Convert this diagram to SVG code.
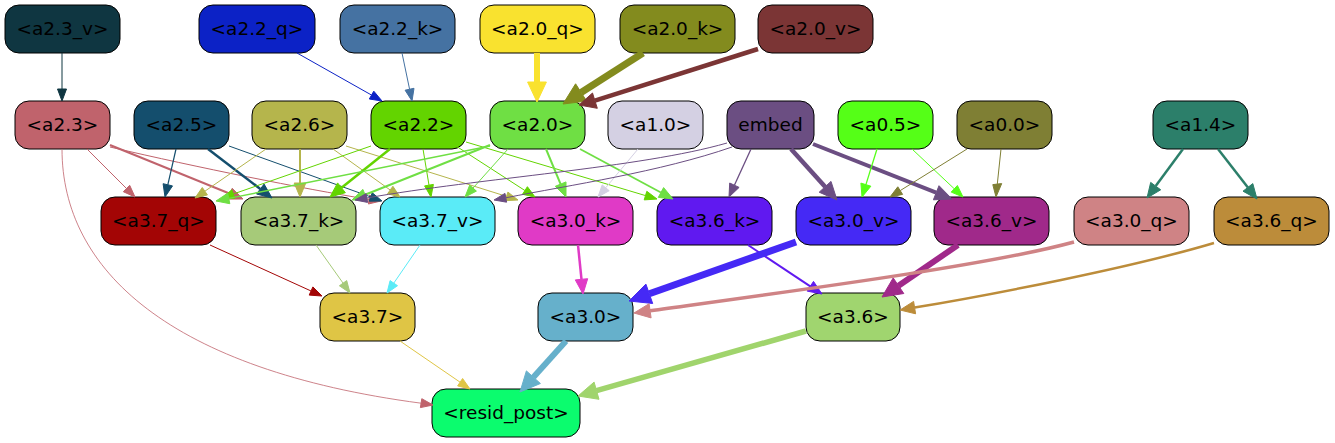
<svg xmlns="http://www.w3.org/2000/svg" width="1335" height="443" viewBox="0 0 1335 443">
<style>
.n rect{stroke:#000;stroke-width:1}
.n text{font-family:"DejaVu Sans","Liberation Sans",sans-serif;font-size:18.5px;text-anchor:middle;fill:#000}
#connectors path{fill:none}
#connectors polygon{stroke-width:1}
</style>
<rect width="1335" height="443" fill="#fff"/>
<g id="nodes">
<g id="a2.3_v" class="n"><rect x="5" y="5" width="115" height="48" rx="14" fill="#0f3641"/><text x="62.5" y="35">&lt;a2.3_v&gt;</text></g>
<g id="a2.2_q" class="n"><rect x="199" y="5" width="116" height="48" rx="14" fill="#0c22c6"/><text x="257" y="35">&lt;a2.2_q&gt;</text></g>
<g id="a2.2_k" class="n"><rect x="340" y="5" width="115" height="48" rx="14" fill="#4572a2"/><text x="397.5" y="35">&lt;a2.2_k&gt;</text></g>
<g id="a2.0_q" class="n"><rect x="480" y="5" width="115" height="48" rx="14" fill="#f9e22f"/><text x="537.5" y="35">&lt;a2.0_q&gt;</text></g>
<g id="a2.0_k" class="n"><rect x="620" y="5" width="115" height="48" rx="14" fill="#838b1e"/><text x="677.5" y="35">&lt;a2.0_k&gt;</text></g>
<g id="a2.0_v" class="n"><rect x="758" y="5" width="115" height="48" rx="14" fill="#7b3535"/><text x="815.5" y="35">&lt;a2.0_v&gt;</text></g>

<g id="a2.3" class="n"><rect x="15" y="101" width="95" height="48" rx="14" fill="#c0636c"/><text x="62.5" y="131">&lt;a2.3&gt;</text></g>
<g id="a2.5" class="n"><rect x="134" y="101" width="95" height="48" rx="14" fill="#144e6d"/><text x="181.5" y="131">&lt;a2.5&gt;</text></g>
<g id="a2.6" class="n"><rect x="252" y="101" width="95" height="48" rx="14" fill="#b5b54c"/><text x="299.5" y="131">&lt;a2.6&gt;</text></g>
<g id="a2.2" class="n"><rect x="371" y="101" width="95" height="48" rx="14" fill="#63d400"/><text x="418.5" y="131">&lt;a2.2&gt;</text></g>
<g id="a2.0" class="n"><rect x="490" y="101" width="95" height="48" rx="14" fill="#6fdf44"/><text x="537.5" y="131">&lt;a2.0&gt;</text></g>
<g id="a1.0" class="n"><rect x="608" y="101" width="95" height="48" rx="14" fill="#d4d0e3"/><text x="655.5" y="131">&lt;a1.0&gt;</text></g>
<g id="embed" class="n"><rect x="727" y="101" width="87" height="48" rx="14" fill="#6b4e82"/><text x="770.5" y="131">embed</text></g>
<g id="a0.5" class="n"><rect x="838" y="101" width="95" height="48" rx="14" fill="#55ff17"/><text x="885.5" y="131">&lt;a0.5&gt;</text></g>
<g id="a0.0" class="n"><rect x="957" y="101" width="95" height="48" rx="14" fill="#7f7f34"/><text x="1004.5" y="131">&lt;a0.0&gt;</text></g>
<g id="a1.4" class="n"><rect x="1153" y="101" width="95" height="48" rx="14" fill="#2c7f6a"/><text x="1200.5" y="131">&lt;a1.4&gt;</text></g>

<g id="a3.7_q" class="n"><rect x="101" y="197" width="115" height="48" rx="14" fill="#a30505"/><text x="158.5" y="227">&lt;a3.7_q&gt;</text></g>
<g id="a3.7_k" class="n"><rect x="241" y="197" width="115" height="48" rx="14" fill="#a6ca79"/><text x="298.5" y="227">&lt;a3.7_k&gt;</text></g>
<g id="a3.7_v" class="n"><rect x="380" y="197" width="115" height="48" rx="14" fill="#5aebf7"/><text x="437.5" y="227">&lt;a3.7_v&gt;</text></g>
<g id="a3.0_k" class="n"><rect x="518" y="197" width="115" height="48" rx="14" fill="#e03ac6"/><text x="575.5" y="227">&lt;a3.0_k&gt;</text></g>
<g id="a3.6_k" class="n"><rect x="657" y="197" width="115" height="48" rx="14" fill="#6019f0"/><text x="714.5" y="227">&lt;a3.6_k&gt;</text></g>
<g id="a3.0_v" class="n"><rect x="796" y="197" width="115" height="48" rx="14" fill="#4529f5"/><text x="853.5" y="227">&lt;a3.0_v&gt;</text></g>
<g id="a3.6_v" class="n"><rect x="934" y="197" width="115" height="48" rx="14" fill="#a0298a"/><text x="991.5" y="227">&lt;a3.6_v&gt;</text></g>
<g id="a3.0_q" class="n"><rect x="1074" y="197" width="115" height="48" rx="14" fill="#cf8385"/><text x="1131.5" y="227">&lt;a3.0_q&gt;</text></g>
<g id="a3.6_q" class="n"><rect x="1214" y="197" width="115" height="48" rx="14" fill="#bc8c3a"/><text x="1271.5" y="227">&lt;a3.6_q&gt;</text></g>

<g id="a3.7" class="n"><rect x="320" y="293" width="95" height="48" rx="14" fill="#dfc545"/><text x="367.5" y="323">&lt;a3.7&gt;</text></g>
<g id="a3.0" class="n"><rect x="538" y="293" width="95" height="48" rx="14" fill="#66b0cb"/><text x="585.5" y="323">&lt;a3.0&gt;</text></g>
<g id="a3.6" class="n"><rect x="806" y="293" width="94" height="48" rx="14" fill="#a0d56f"/><text x="853" y="323">&lt;a3.6&gt;</text></g>

<g id="resid_post" class="n"><rect x="432" y="389" width="148" height="48" rx="14" fill="#0bfc6e"/><text x="506" y="419">&lt;resid_post&gt;</text></g>
</g>

<g id="connectors">
<path d="M62,53 L62,89" stroke="#0f3641" stroke-width="1"/><polygon points="62,101 57.5,89 66.5,89" fill="#0f3641" stroke="#0f3641"/>
<path d="M297,53 L371.6,95.1" stroke="#0c22c6" stroke-width="1"/><polygon points="382,101 369.3,99 373.8,91.2" fill="#0c22c6" stroke="#0c22c6"/>
<path d="M402,53 L409.6,89.3" stroke="#4572a2" stroke-width="1"/><polygon points="412,101 405.1,90.2 414,88.3" fill="#4572a2" stroke="#4572a2"/>
<path d="M537,53 L537,82" stroke="#f9e22f" stroke-width="6"/><polygon points="537,102 527.6,82 546.4,82" fill="#f9e22f" stroke="#f9e22f"/>
<path d="M643,53 L581.1,92.5" stroke="#838b1e" stroke-width="7"/><polygon points="563,104 575.6,83.8 586.6,101.1" fill="#838b1e" stroke="#838b1e"/>
<path d="M758,49 L594.9,100.6" stroke="#7b3535" stroke-width="4.5"/><polygon points="579,105 592.5,93 597.3,108.3" fill="#7b3535" stroke="#7b3535"/>

<path d="M87,149 L126.5,188.5" stroke="#c0636c" stroke-width="1"/><polygon points="135,197 123.3,191.7 129.7,185.3" fill="#c0636c" stroke="#c0636c"/>
<path d="M110,145 L230,193.7" stroke="#c0636c" stroke-width="2"/><polygon points="243,199 227.8,199.1 232.2,188.3" fill="#c0636c" stroke="#c0636c"/>
<path d="M110,147 C200,168 300,188 369.1,199.5" stroke="#c0636c" stroke-width="1"/><polygon points="381,201 368.4,204 369.6,195" fill="#c0636c" stroke="#c0636c"/>
<path d="M62,149 C62,270 170,370 421.1,403.2" stroke="#c0636c" stroke-width="0.8"/><polygon points="433,405 420.4,407.6 421.8,398.7" fill="#c0636c" stroke="#c0636c"/>

<path d="M176,149 L167.8,184.8" stroke="#144e6d" stroke-width="1.2"/><polygon points="165,197 163.1,183.7 172.5,185.9" fill="#144e6d" stroke="#144e6d"/>
<path d="M208,149 L260.3,189" stroke="#144e6d" stroke-width="2.5"/><polygon points="272,198 256.5,194 264.1,184.1" fill="#144e6d" stroke="#144e6d"/>
<path d="M229,146 L370.7,196.9" stroke="#144e6d" stroke-width="1"/><polygon points="382,201 369.2,201.2 372.2,192.7" fill="#144e6d" stroke="#144e6d"/>

<path d="M266,149 L204.9,191.2" stroke="#b5b54c" stroke-width="1"/><polygon points="195,198 202.3,187.5 207.4,194.9" fill="#b5b54c" stroke="#b5b54c"/>
<path d="M300,149 L300,183" stroke="#b5b54c" stroke-width="2"/><polygon points="300,197 294.2,183 305.8,183" fill="#b5b54c" stroke="#b5b54c"/>
<path d="M333,149 L390.2,190" stroke="#b5b54c" stroke-width="1"/><polygon points="400,197 387.6,193.7 392.9,186.3" fill="#b5b54c" stroke="#b5b54c"/>
<path d="M346,146 L506.6,196.4" stroke="#b5b54c" stroke-width="1"/><polygon points="518,200 505.2,200.7 507.9,192.1" fill="#b5b54c" stroke="#b5b54c"/>

<path d="M371,146 L233.3,194" stroke="#63d400" stroke-width="1"/><polygon points="222,198 231.8,189.8 234.8,198.3" fill="#63d400" stroke="#63d400"/>
<path d="M390,149 L341.5,187.8" stroke="#63d400" stroke-width="2.5"/><polygon points="330,197 337.6,182.9 345.4,192.7" fill="#63d400" stroke="#63d400"/>
<path d="M423,149 L429,185.2" stroke="#63d400" stroke-width="1"/><polygon points="431,197 424.6,185.9 433.4,184.4" fill="#63d400" stroke="#63d400"/>
<path d="M456,146 L524.9,190.5" stroke="#63d400" stroke-width="1"/><polygon points="535,197 522.5,194.3 527.4,186.7" fill="#63d400" stroke="#63d400"/>
<path d="M466,142 L645.5,195.6" stroke="#63d400" stroke-width="1"/><polygon points="657,199 644.2,199.9 646.8,191.3" fill="#63d400" stroke="#63d400"/>

<path d="M490,146 L228.7,198.4" stroke="#6fdf44" stroke-width="1.4"/><polygon points="216,201 227.7,193.2 229.8,203.7" fill="#6fdf44" stroke="#6fdf44"/>
<path d="M490,145 L365,194.8" stroke="#6fdf44" stroke-width="2"/><polygon points="352,200 362.9,189.4 367.2,200.2" fill="#6fdf44" stroke="#6fdf44"/>
<path d="M508,149 L473,188.1" stroke="#6fdf44" stroke-width="1"/><polygon points="465,197 469.7,185.1 476.4,191.1" fill="#6fdf44" stroke="#6fdf44"/>
<path d="M546,149 L560.6,184.1" stroke="#6fdf44" stroke-width="2"/><polygon points="566,197 555.3,186.3 566,181.9" fill="#6fdf44" stroke="#6fdf44"/>
<path d="M580,149 L660.9,192.5" stroke="#6fdf44" stroke-width="1.8"/><polygon points="673,199 658.3,197.4 663.6,187.6" fill="#6fdf44" stroke="#6fdf44"/>

<path d="M638,149 L605.7,187.8" stroke="#d4d0e3" stroke-width="1"/><polygon points="598,197 602.2,184.9 609.2,190.7" fill="#d4d0e3" stroke="#d4d0e3"/>

<path d="M727,143 C640,168 480,178 366.8,198" stroke="#6b4e82" stroke-width="1"/><polygon points="355,200 366.1,193.6 367.6,202.4" fill="#6b4e82" stroke="#6b4e82"/>
<path d="M732,147 C660,172 570,185 505.8,197.8" stroke="#6b4e82" stroke-width="1"/><polygon points="494,200 505,193.4 506.6,202.2" fill="#6b4e82" stroke="#6b4e82"/>
<path d="M751,149 L734.4,185.2" stroke="#6b4e82" stroke-width="1.3"/><polygon points="729,197 729.7,183 739.1,187.4" fill="#6b4e82" stroke="#6b4e82"/>
<path d="M791,149 L825.1,186.8" stroke="#6b4e82" stroke-width="4.5"/><polygon points="837,200 819.2,192.2 831,181.4" fill="#6b4e82" stroke="#6b4e82"/>
<path d="M813,144 L936.2,192.7" stroke="#6b4e82" stroke-width="4"/><polygon points="952,199 933.4,199.8 939,185.7" fill="#6b4e82" stroke="#6b4e82"/>

<path d="M877,149 L865.9,184.6" stroke="#55ff17" stroke-width="1.3"/><polygon points="862,197 860.9,183.1 870.9,186.2" fill="#55ff17" stroke="#55ff17"/>
<path d="M912,149 L954.3,188.8" stroke="#55ff17" stroke-width="1"/><polygon points="963,197 951.2,192.1 957.4,185.5" fill="#55ff17" stroke="#55ff17"/>
<path d="M967,149 L900.2,190.6" stroke="#7f7f34" stroke-width="1"/><polygon points="890,197 897.8,186.8 902.6,194.4" fill="#7f7f34" stroke="#7f7f34"/>
<path d="M1001,149 L997.2,185.1" stroke="#7f7f34" stroke-width="1"/><polygon points="996,197 992.8,184.6 1001.7,183.6" fill="#7f7f34" stroke="#7f7f34"/>

<path d="M1183,149 L1155.7,186.1" stroke="#2c7f6a" stroke-width="2.5"/><polygon points="1147,198 1150.7,182.4 1160.7,189.8" fill="#2c7f6a" stroke="#2c7f6a"/>
<path d="M1218,149 L1247.9,187.4" stroke="#2c7f6a" stroke-width="2.5"/><polygon points="1257,199 1243,191.2 1252.8,183.6" fill="#2c7f6a" stroke="#2c7f6a"/>

<path d="M210,245 L311.1,291" stroke="#a30505" stroke-width="1"/><polygon points="322,296 309.2,295.1 312.9,286.9" fill="#a30505" stroke="#a30505"/>
<path d="M316,245 L343.1,283.2" stroke="#a6ca79" stroke-width="1"/><polygon points="350,293 339.4,285.8 346.7,280.6" fill="#a6ca79" stroke="#a6ca79"/>
<path d="M420,245 L393.8,283.1" stroke="#5aebf7" stroke-width="1"/><polygon points="387,293 390.1,280.6 397.5,285.7" fill="#5aebf7" stroke="#5aebf7"/>
<path d="M578,245 L581.5,279.3" stroke="#e03ac6" stroke-width="2.5"/><polygon points="583,294 575.3,279.9 587.7,278.7" fill="#e03ac6" stroke="#e03ac6"/>
<path d="M748,245 L810.3,286.3" stroke="#6019f0" stroke-width="2"/><polygon points="822,294 807.1,291.1 813.5,281.4" fill="#6019f0" stroke="#6019f0"/>
<path d="M796,242 L649.3,293.8" stroke="#4529f5" stroke-width="7"/><polygon points="629,301 645.9,284.1 652.7,303.5" fill="#4529f5" stroke="#4529f5"/>
<path d="M958,245 L898.5,285.7" stroke="#a0298a" stroke-width="6"/><polygon points="882,297 893.2,277.9 903.8,293.5" fill="#a0298a" stroke="#a0298a"/>
<path d="M1074,242 C990,265 800,290 650.1,310.8" stroke="#cf8385" stroke-width="3.5"/><polygon points="634,313 649.1,303.7 651.1,317.9" fill="#cf8385" stroke="#cf8385"/>
<path d="M1214,243 C1130,268 990,295 914.6,307.6" stroke="#bc8c3a" stroke-width="2.5"/><polygon points="900,310 913.6,301.4 915.6,313.8" fill="#bc8c3a" stroke="#bc8c3a"/>

<path d="M400,341 L460.1,382.2" stroke="#dfc545" stroke-width="1"/><polygon points="470,389 457.6,385.9 462.6,378.5" fill="#dfc545" stroke="#dfc545"/>
<path d="M566,341 L533.4,377.2" stroke="#66b0cb" stroke-width="6"/><polygon points="520,392 526.4,370.9 540.4,383.5" fill="#66b0cb" stroke="#66b0cb"/>
<path d="M806,331 L596.5,390.7" stroke="#a0d46c" stroke-width="5.5"/><polygon points="578,396 594.1,382.1 599,399.3" fill="#a0d46c" stroke="#a0d46c"/>
</g>
</svg>
